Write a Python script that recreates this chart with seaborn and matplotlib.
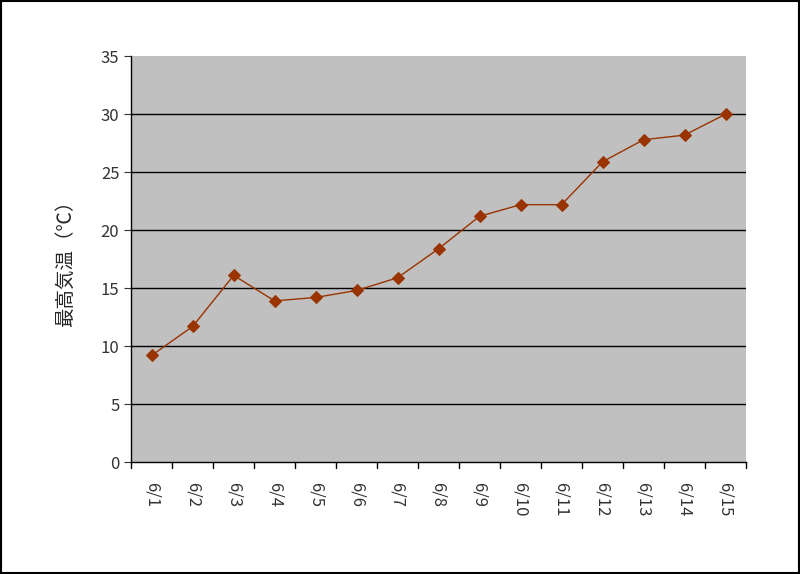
import pandas as pd
import seaborn as sns
import matplotlib.pyplot as plt
from matplotlib.patches import Rectangle

dates = ["6/1", "6/2", "6/3", "6/4", "6/5", "6/6", "6/7", "6/8",
         "6/9", "6/10", "6/11", "6/12", "6/13", "6/14", "6/15"]
max_temp = [9.2, 11.7, 16.1, 13.9, 14.2, 14.8, 15.9, 18.4,
            21.2, 22.2, 22.2, 25.9, 27.8, 28.2, 30.0]

df = pd.DataFrame({"date": dates, "temp": max_temp})
df["pos"] = range(len(df))

sns.set_style("white")
plt.rcParams['font.family'] = ['Noto Sans CJK JP', 'DejaVu Sans']

fig = plt.figure(figsize=(8.0, 5.74), dpi=100)
ax = fig.add_axes([0.164, 0.195, 0.7685, 0.707])
ax.set_facecolor("#c0c0c0")

for y in range(5, 35, 5):
    ax.axhline(y, color="black", lw=1, zorder=1)

sns.lineplot(data=df, x="pos", y="temp", ax=ax, color="#993300", lw=1,
             marker="D", markersize=6, markeredgecolor="#993300", zorder=3)

ax.set_xlim(-0.5, len(dates) - 0.5)
ax.set_ylim(0, 35)
ax.set_yticks(range(0, 40, 5))
ax.set_xticks(range(len(dates)))
ax.set_xticklabels(dates, rotation=-90, fontsize=12, color="#333333")
ax.tick_params(axis="y", labelsize=12, colors="#333333", length=5, direction="out", left=True)
ax.tick_params(axis="x", length=0, pad=14)
# tick marks between categories
for b in range(len(dates) + 1):
    ax.plot([b - 0.5, b - 0.5], [0, -0.5], color="black", lw=1, clip_on=False)

for s in ["top", "right"]:
    ax.spines[s].set_visible(False)
for s in ["left", "bottom"]:
    ax.spines[s].set_color("black")
    ax.spines[s].set_linewidth(1)

ax.set_xlabel("")
ax.set_ylabel("最高気温（℃）", fontsize=14, labelpad=18)

fig.patches.append(Rectangle((0.001, 0.001), 0.998, 0.998, transform=fig.transFigure,
                             fill=False, edgecolor="black", lw=1.5))

fig.savefig("out.png", dpi=100)
